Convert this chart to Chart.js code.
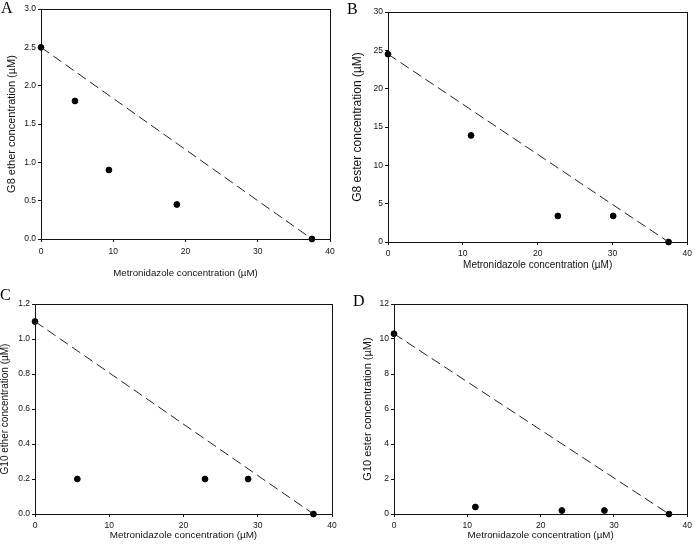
<!DOCTYPE html>
<html>
<head>
<meta charset="utf-8">
<script src="https://cdn.jsdelivr.net/npm/chart.js@4.4.1/dist/chart.umd.min.js"></script>
<style>
  body { margin: 0; background: #fff; }
  #page { position: relative; width: 696px; height: 551px; }
  .panel { position: absolute; }
  .tag { position: absolute; font-family: "Liberation Serif", "Times New Roman", serif; font-size: 16px; color: #000; line-height: 1; }
</style>
</head>
<body>
<div id="page">
  <div class="panel" style="left:0px;top:0px;width:345px;height:282px"><canvas id="cA"></canvas></div>
  <div class="panel" style="left:346px;top:0px;width:350px;height:282px"><canvas id="cB"></canvas></div>
  <div class="panel" style="left:0px;top:282px;width:345px;height:269px"><canvas id="cC"></canvas></div>
  <div class="panel" style="left:346px;top:282px;width:350px;height:269px"><canvas id="cD"></canvas></div>
  <div class="tag" style="left:1px;top:0px">A</div>
  <div class="tag" style="left:347px;top:1px">B</div>
  <div class="tag" style="left:0px;top:287px">C</div>
  <div class="tag" style="left:353px;top:293px">D</div>
</div>
<script>
// metronidazole concentrations (uM) per panel
var xA = [0, 4.7, 9.4, 18.8, 37.5];
var yA = [2.5, 1.8, 0.9, 0.45, 0];
var xB = [0, 11.1, 22.7, 30.1, 37.5];
var yB = [24.5, 13.9, 3.4, 3.4, 0];
var xC = [0, 5.7, 22.9, 28.7, 37.5];
var yC = [1.1, 0.2, 0.2, 0.2, 0];
var xD = [0, 11.1, 22.9, 28.7, 37.5];
var yD = [10.3, 0.4, 0.2, 0.2, 0];

// dashed reference line endpoints
var lineX = [0, 37.5];
var lineA = [2.5, 0];
var lineB = [24.5, 0];
var lineC = [1.1, 0];
var lineD = [10.3, 0];

var xTitle = "Metronidazole concentration (\u00b5M)";

var boxPlugin = {
  id: 'box',
  afterDraw: function (chart) {
    var a = chart.chartArea, ctx = chart.ctx;
    ctx.save();
    ctx.strokeStyle = '#111';
    ctx.lineWidth = 1;
    ctx.strokeRect(Math.round(a.left) + 0.5, Math.round(a.top) + 0.5, Math.round(a.right - a.left), Math.round(a.bottom - a.top));
    ctx.restore();
  }
};

function pts(xs, ys) {
  var out = [];
  for (var i = 0; i < xs.length; i++) out.push({x: xs[i], y: ys[i]});
  return out;
}

function makeChart(id, p) {
  new Chart(document.getElementById(id), {
    type: 'scatter',
    data: {
      datasets: [
        {
          type: 'line',
          data: pts(lineX, p.line),
          borderColor: '#222',
          borderWidth: 1,
          borderDash: [10, 5],
          pointRadius: 0,
          fill: false
        },
        {
          data: pts(p.xs, p.ys),
          backgroundColor: '#000',
          borderColor: '#000',
          pointRadius: 2.9,
          clip: false
        }
      ]
    },
    options: {
      responsive: true,
      maintainAspectRatio: false,
      animation: false,
      layout: { padding: { left: 0, bottom: 0, top: p.padTop, right: p.padRight } },
      plugins: { legend: { display: false }, tooltip: { enabled: false } },
      scales: {
        x: {
          type: 'linear', min: 0, max: 40,
          afterFit: function (s) { s.height = p.xH; },
          ticks: { stepSize: 10, color: '#111', padding: p.xTickPad, maxRotation: 0,
                   font: { family: 'Liberation Sans, Arial, sans-serif', size: 8.5 } },
          grid: { drawOnChartArea: false, drawTicks: true, tickLength: 3, color: '#111' },
          border: { display: true, color: '#111' },
          title: { display: true, text: xTitle, color: '#111',
                   font: { family: 'Liberation Sans, Arial, sans-serif', size: p.xTitleSize, lineHeight: 1 },
                   padding: { top: 0, bottom: p.xTitlePad } }
        },
        y: {
          type: 'linear', min: 0, max: p.yMax,
          afterFit: function (s) { s.width = p.yW; },
          ticks: { stepSize: p.yStep, color: '#111', padding: 2,
                   font: { family: 'Liberation Sans, Arial, sans-serif', size: 8.5 },
                   callback: function (v) { return v.toFixed(p.dec); } },
          grid: { drawOnChartArea: false, drawTicks: true, tickLength: 3, color: '#111' },
          border: { display: true, color: '#111' },
          title: { display: true, text: p.yTitle, color: '#111',
                   font: { family: 'Liberation Sans, Arial, sans-serif', size: p.yTitleSize, lineHeight: 1 },
                   padding: { top: p.yTitlePad, bottom: 0 } }
        }
      }
    },
    plugins: [boxPlugin]
  });
}

makeChart('cA', { xs: xA, ys: yA, line: lineA, yMax: 3, yStep: 0.5, dec: 1,
  yTitle: 'G8 ether concentration (\u00b5M)', yTitleSize: 11, yTitlePad: 6.5,
  xTitleSize: 9.7, xTitlePad: 4, xTickPad: 5, padTop: 9, padRight: 15, yW: 41, xH: 43 });
makeChart('cB', { xs: xB, ys: yB, line: lineB, yMax: 30, yStep: 5, dec: 0,
  yTitle: 'G8 ester concentration (\u00b5M)', yTitleSize: 12, yTitlePad: 6,
  xTitleSize: 10, xTitlePad: 12, xTickPad: 4, padTop: 12, padRight: 7, yW: 42, xH: 40 });
makeChart('cC', { xs: xC, ys: yC, line: lineC, yMax: 1.2, yStep: 0.2, dec: 1,
  yTitle: 'G10 ether concentration (\u00b5M)', yTitleSize: 10, yTitlePad: 0,
  xTitleSize: 9.9, xTitlePad: 11, xTickPad: 4, padTop: 22, padRight: 13, yW: 35, xH: 37 });
makeChart('cD', { xs: xD, ys: yD, line: lineD, yMax: 12, yStep: 2, dec: 0,
  yTitle: 'G10 ester concentration (\u00b5M)', yTitleSize: 11, yTitlePad: 16.5,
  xTitleSize: 9.8, xTitlePad: 11, xTickPad: 4, padTop: 22, padRight: 6, yW: 48, xH: 37 });
</script>
</body>
</html>
